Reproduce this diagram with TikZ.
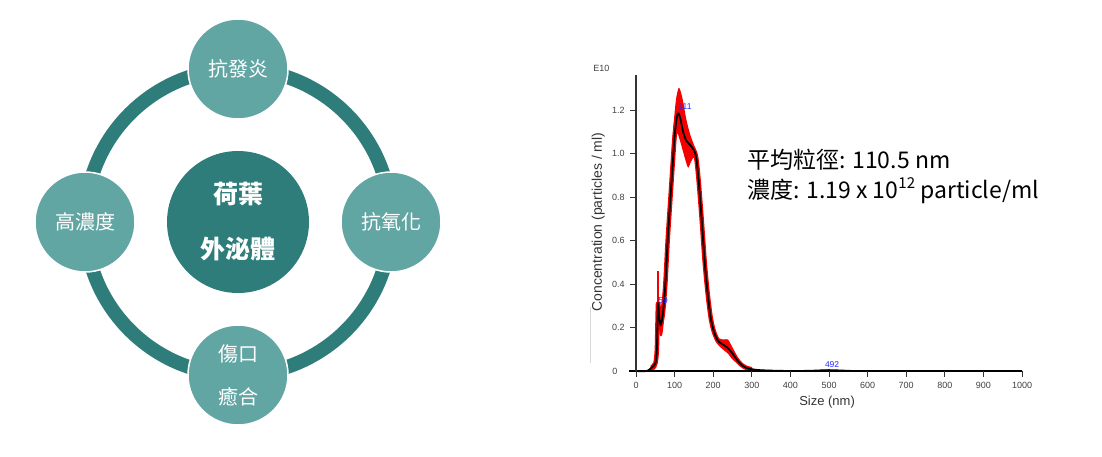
\documentclass[tikz,border=0pt]{standalone}
\usepackage{fontspec}
\setmainfont{Liberation Sans}
\newfontfamily\cjk{Noto Sans CJK TC}
\definecolor{tealdark}{HTML}{2E7D7B}
\definecolor{teallight}{HTML}{62A6A4}
\definecolor{bandred}{HTML}{F50000}

\begin{document}
\begin{tikzpicture}[x=1pt, y=-1pt,
  petal/.style={circle, minimum size=100pt, inner sep=0pt, fill=teallight, draw=white,
    line width=1.5pt, text=white, font=\cjk\fontsize{20}{43}\selectfont, align=center},
  hub/.style={circle, minimum size=142pt, inner sep=0pt, fill=tealdark, text=white,
    font=\cjk\bfseries\fontsize{25}{55}\selectfont, align=center},
  ticklabel/.style={font=\fontsize{9}{10}\selectfont, text=black!75},
  peaklabel/.style={font=\fontsize{8.5}{10}\selectfont, text=blue!85!white, inner sep=0pt}]
  \useasboundingbox (0,0) rectangle (1102,456);
  % left: ring of effects round the exosome
  \coordinate (mid) at (238,222);
  \draw[tealdark, line width=14pt] (mid) circle[radius=153pt];
  \node[hub] (hub) at (mid) {荷葉\\外泌體};
  \node[petal] (antiinf) at (238,69) {抗發炎};
  \node[petal] (antiox) at (391,222) {抗氧化};
  \node[petal] (wound) at (238,375) {傷口\\癒合};
  \node[petal] (conc) at (85,222) {高濃度};
  % right: size distribution
  \begin{scope}[xshift=636pt, yshift=-371pt, x=0.386pt, y=217.5pt]
    \draw[black!15, line width=0.6pt] (-119,0.037) -- (-119,0.294);
    \fill[bandred] plot[smooth, tension=0.5] coordinates {(28,0) (40,0.02) (50,0.05)
      (55,0.15) (58,0.3) (63,0.29) (68,0.33) (75,0.48) (85,0.8) (95,1.08)
      (103,1.24) (110,1.3) (115,1.29) (122,1.24) (130,1.16) (140,1.09) (150,1.04)
      (157,1.0) (165,0.84) (172,0.67) (180,0.49) (188,0.35) (196,0.24) (205,0.175)
      (215,0.15) (228,0.145) (238,0.145) (248,0.115) (260,0.075) (272,0.04) (290,0.017)
      (320,0.007) (400,0.001)}
      -- plot[smooth, tension=0.5] coordinates {(400,0) (320,0.002) (290,0.008)
      (272,0.022) (260,0.037) (248,0.057) (238,0.08) (228,0.095) (215,0.115) (205,0.14)
      (196,0.19) (188,0.28) (180,0.43) (172,0.6) (165,0.76) (158,0.92) (150,0.98)
      (142,0.96) (135,0.935) (128,0.97) (120,1.02) (112,1.07) (106,1.09) (100,1.0)
      (94,0.88) (88,0.72) (82,0.52) (76,0.33) (70,0.19) (66,0.16) (62,0.16) (59,0.19)
      (56,0.05) (52,0.015) (45,0.003) (35,0)} -- cycle;
    \draw[bandred, line width=2pt] (57,0.12) -- (57,0.46);
    \fill[bandred] plot[smooth, tension=0.5] coordinates {(460,0) (492,0.006) (530,0)};
    \draw[bandred, line width=4.5pt, line join=round] plot[smooth, tension=0.5] coordinates {
      (40,0.015) (50,0.035) (54,0.1) (57,0.31) (60,0.25) (64,0.21) (70,0.27)
      (76,0.4) (82,0.6) (89,0.79) (95,0.95) (100,1.08) (106,1.17) (110,1.185)
      (115,1.16) (122,1.1) (130,1.06) (140,1.04) (150,1.015) (156,0.98) (162,0.88)
      (170,0.7) (178,0.5) (186,0.35) (194,0.24) (202,0.18) (212,0.14) (222,0.125)
      (235,0.11) (248,0.085) (260,0.055) (272,0.03) (285,0.015) (300,0.008)};
    \draw[line width=1.8pt, line join=round] plot[smooth, tension=0.5] coordinates {(0,0)
      (28,0) (40,0.015) (50,0.035) (54,0.1) (57,0.31) (60,0.25) (64,0.21) (70,0.27)
      (76,0.4) (82,0.6) (89,0.79) (95,0.95) (100,1.08) (106,1.17) (110,1.185)
      (115,1.16) (122,1.1) (130,1.06) (140,1.04) (150,1.015) (156,0.98) (162,0.88)
      (170,0.7) (178,0.5) (186,0.35) (194,0.24) (202,0.18) (212,0.14) (222,0.125)
      (235,0.11) (248,0.085) (260,0.055) (272,0.03) (285,0.015) (300,0.008)
      (330,0.003) (400,0) (450,0.001) (500,0.004) (550,0.001) (600,0) (1000,0)};
    % axes and ticks
    \draw[line width=1.6pt] (-18,0) -- (1000,0);
    \draw[line width=1.2pt, black!80] (0,0) -- (0,1.361);
    \foreach \v in {0.2,0.4,0.6,0.8,1.0,1.2}
      \draw[line width=0.8pt, black!80] (0,\v) -- ++(-6pt,0)
        node[ticklabel, anchor=east, inner sep=0pt, xshift=-5pt, name=yt\v] {\v};
    \node[ticklabel, anchor=west, inner sep=0pt] (yt0) at (-62,0) {0};
    \foreach \n in {0,100,...,1000}
      \draw[line width=0.8pt, black!80] (\n,0) -- ++(0,-6pt)
        node[ticklabel, below=1pt, name=xt\n] {\n};
    \node[ticklabel, anchor=west, inner sep=0pt] (exp) at (-111,1.389) {E10};
    \node[font=\fontsize{14}{16}\selectfont, text=black!80, rotate=90] (ylab) at (-98,0.685)
      {Concentration (particles / ml)};
    \node[font=\fontsize{13}{15}\selectfont, text=black!80] (xlab) at (495,-0.143) {Size (nm)};
    \node[peaklabel] (p111) at (127,1.214) {111};
    \node[peaklabel] (p59) at (70,0.326) {59};
    \node[peaklabel] (p492) at (508,0.028) {492};
  \end{scope}
  \node[font=\cjk\fontsize{23}{28}\selectfont, anchor=base west, inner sep=0pt] (size)
    at (747,168) {平均粒徑: 110.5 nm};
  \node[font=\cjk\fontsize{23}{28}\selectfont, anchor=base west, inner sep=0pt] (count)
    at (747,198) {濃度: 1.19 x 10\raisebox{0.42em}{\fontsize{15}{15}\selectfont 12} particle/ml};
\end{tikzpicture}
\end{document}
